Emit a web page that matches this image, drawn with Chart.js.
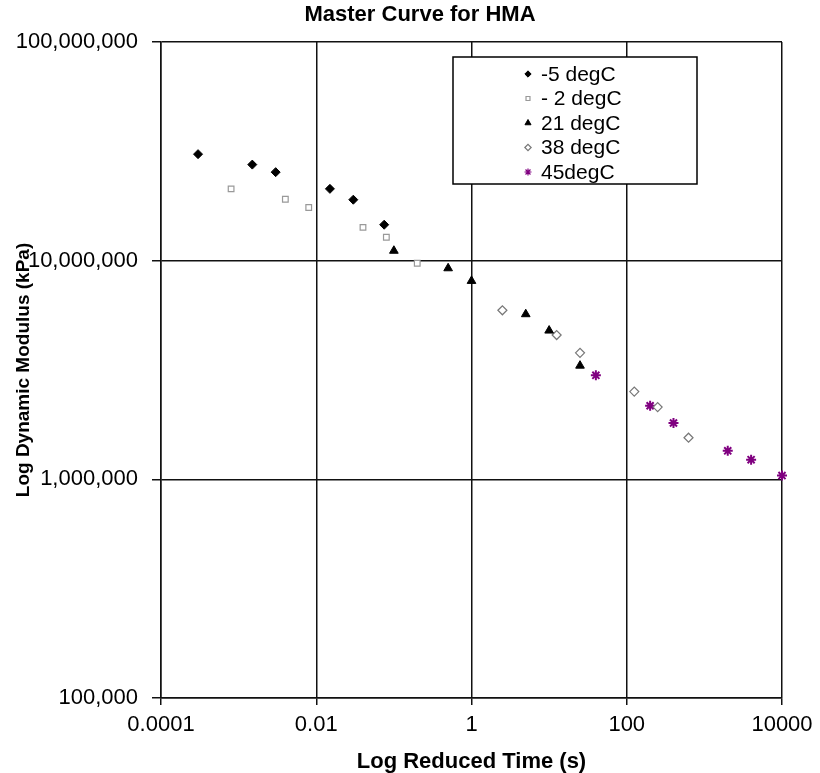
<!DOCTYPE html>
<html lang="en">
<head>
    <meta charset="UTF-8">
    <title>Master Curve for HMA</title>
    <style>
        body {
            margin: 0;
            padding: 0;
            background-color: #ffffff;
        }
        canvas {
            display: block;
        }
    </style>
    <script src="https://cdn.jsdelivr.net/npm/chart.js"></script>
</head>
<body>
    <canvas id="master-chart" width="820" height="773"></canvas>

    <script>
        // Series labels (temperatures)
        const temps = ['-5 degC', '- 2 degC', '21 degC', '38 degC', '45degC'];

        // Reduced time (s) and dynamic modulus (kPa)
        const timeM5 = [0.0003, 0.0015, 0.003, 0.015, 0.03, 0.075];
        const modM5 = [3.07e7, 2.75e7, 2.54e7, 2.13e7, 1.90e7, 1.46e7];

        const timeM2 = [0.0008, 0.004, 0.008, 0.04, 0.08, 0.2];
        const modM2 = [2.13e7, 1.91e7, 1.75e7, 1.42e7, 1.28e7, 9.73e6];

        const time21 = [0.1, 0.5, 1, 5, 10, 25];
        const mod21 = [1.11e7, 9.23e6, 8.08e6, 5.69e6, 4.79e6, 3.31e6];

        const time38 = [2.5, 12.5, 25, 125, 250, 625];
        const mod38 = [5.93e6, 4.57e6, 3.79e6, 2.52e6, 2.14e6, 1.55e6];

        const time45 = [40, 200, 400, 2000, 4000, 10000];
        const mod45 = [2.99e6, 2.17e6, 1.81e6, 1.35e6, 1.23e6, 1.04e6];

        // Axis ticks
        const xTickValues = [0.0001, 0.01, 1, 100, 10000];
        const xTickLabels = ['0.0001', '0.01', '1', '100', '10000'];
        const yTickValues = [100000, 1000000, 10000000, 100000000];
        const yTickLabels = ['100,000', '1,000,000', '10,000,000', '100,000,000'];

        const FONT = '"Liberation Sans", Arial, sans-serif';

        function toPoints(xs, ys) {
            return xs.map((x, i) => ({ x: x, y: ys[i] }));
        }

        const seriesStyles = [
            { style: 'rectRot', radius: 4.5, bg: '#000000', border: '#000000', bw: 1 },
            { style: 'rect', radius: 4, bg: '#ffffff', border: '#999999', bw: 1.2 },
            { style: 'triangle', radius: 5, bg: '#000000', border: '#000000', bw: 1 },
            { style: 'rectRot', radius: 4.5, bg: '#ffffff', border: '#777777', bw: 1.2 },
            { style: 'star', radius: 5, bg: '#800080', border: '#800080', bw: 2 }
        ];

        const seriesData = [
            toPoints(timeM5, modM5),
            toPoints(timeM2, modM2),
            toPoints(time21, mod21),
            toPoints(time38, mod38),
            toPoints(time45, mod45)
        ];

        const datasets = temps.map((t, i) => ({
            label: t,
            data: seriesData[i],
            pointStyle: seriesStyles[i].style,
            pointRadius: seriesStyles[i].radius,
            pointBackgroundColor: seriesStyles[i].bg,
            pointBorderColor: seriesStyles[i].border,
            pointBorderWidth: seriesStyles[i].bw,
            showLine: false,
            clip: false
        }));

        // Title drawn at the same place as in the original figure
        const titlePlugin = {
            id: 'masterTitle',
            afterDraw(chart) {
                const ctx = chart.ctx;
                ctx.save();
                ctx.font = 'bold 22px ' + FONT;
                ctx.fillStyle = '#000';
                ctx.textAlign = 'center';
                ctx.textBaseline = 'middle';
                ctx.fillText('Master Curve for HMA', 420, 15);
                ctx.restore();
            }
        };

        // Boxed legend inside the plot area
        const boxLegend = {
            id: 'boxLegend',
            afterDraw(chart) {
                const ctx = chart.ctx;
                const left = 453, top = 57, width = 244, height = 127;
                ctx.save();
                ctx.fillStyle = '#ffffff';
                ctx.fillRect(left, top, width, height);
                ctx.strokeStyle = '#000';
                ctx.lineWidth = 1.5;
                ctx.strokeRect(left, top, width, height);

                ctx.font = '21px ' + FONT;
                ctx.textBaseline = 'middle';
                ctx.textAlign = 'left';
                chart.data.datasets.forEach((ds, i) => {
                    const y = top + 17 + i * 24.5;
                    const st = seriesStyles[i];
                    ctx.fillStyle = st.bg;
                    ctx.strokeStyle = st.border;
                    ctx.lineWidth = i === 4 ? 1.2 : st.bw;
                    Chart.helpers.drawPoint(ctx, {
                        pointStyle: st.style,
                        radius: st.radius * 0.7,
                        rotation: 0,
                        borderWidth: i === 4 ? 1.2 : st.bw
                    }, 528, y);
                    ctx.fillStyle = '#000';
                    ctx.fillText(ds.label, 541, y + 1);
                });
                ctx.restore();
            }
        };

        const ctx = document.getElementById('master-chart').getContext('2d');
        const chart = new Chart(ctx, {
            type: 'scatter',
            data: { datasets: datasets },
            plugins: [titlePlugin, boxLegend],
            options: {
                responsive: false,
                animation: false,
                layout: {
                    padding: { top: 42, right: 38, left: 0, bottom: 0 }
                },
                plugins: {
                    legend: { display: false },
                    title: { display: false },
                    tooltip: { enabled: false }
                },
                scales: {
                    x: {
                        type: 'logarithmic',
                        min: 0.0001,
                        max: 10000,
                        afterBuildTicks: (scale) => {
                            scale.ticks = xTickValues.map(v => ({ value: v }));
                        },
                        afterFit: (scale) => {
                            scale.height = 75;
                            scale.paddingLeft = 0;
                            scale.paddingRight = 0;
                        },
                        ticks: {
                            autoSkip: false,
                            maxRotation: 0,
                            padding: 7,
                            color: '#000',
                            font: { family: FONT, size: 22 },
                            callback: (value, index) => xTickLabels[index]
                        },
                        grid: {
                            color: '#111',
                            lineWidth: 1.5,
                            tickLength: 7
                        },
                        border: { color: '#111', width: 1.5 },
                        title: {
                            display: true,
                            text: 'Log Reduced Time (s)',
                            color: '#000',
                            font: { family: FONT, size: 22, weight: 'bold', lineHeight: 1.0 },
                            padding: { top: 0, bottom: 0 }
                        }
                    },
                    y: {
                        type: 'logarithmic',
                        min: 100000,
                        max: 100000000,
                        afterBuildTicks: (scale) => {
                            scale.ticks = yTickValues.map(v => ({ value: v }));
                        },
                        afterFit: (scale) => {
                            scale.width = 161;
                        },
                        ticks: {
                            autoSkip: false,
                            padding: 14,
                            color: '#000',
                            font: { family: FONT, size: 22 },
                            callback: (value, index) => yTickLabels[index]
                        },
                        grid: {
                            color: '#111',
                            lineWidth: 1.5,
                            tickLength: 9
                        },
                        border: { color: '#111', width: 1.5 },
                        title: {
                            display: true,
                            text: 'Log Dynamic Modulus (kPa)',
                            color: '#000',
                            font: { family: FONT, size: 19, weight: 'bold' },
                            padding: { top: 12, bottom: 0 }
                        }
                    }
                }
            }
        });
    </script>
</body>
</html>
